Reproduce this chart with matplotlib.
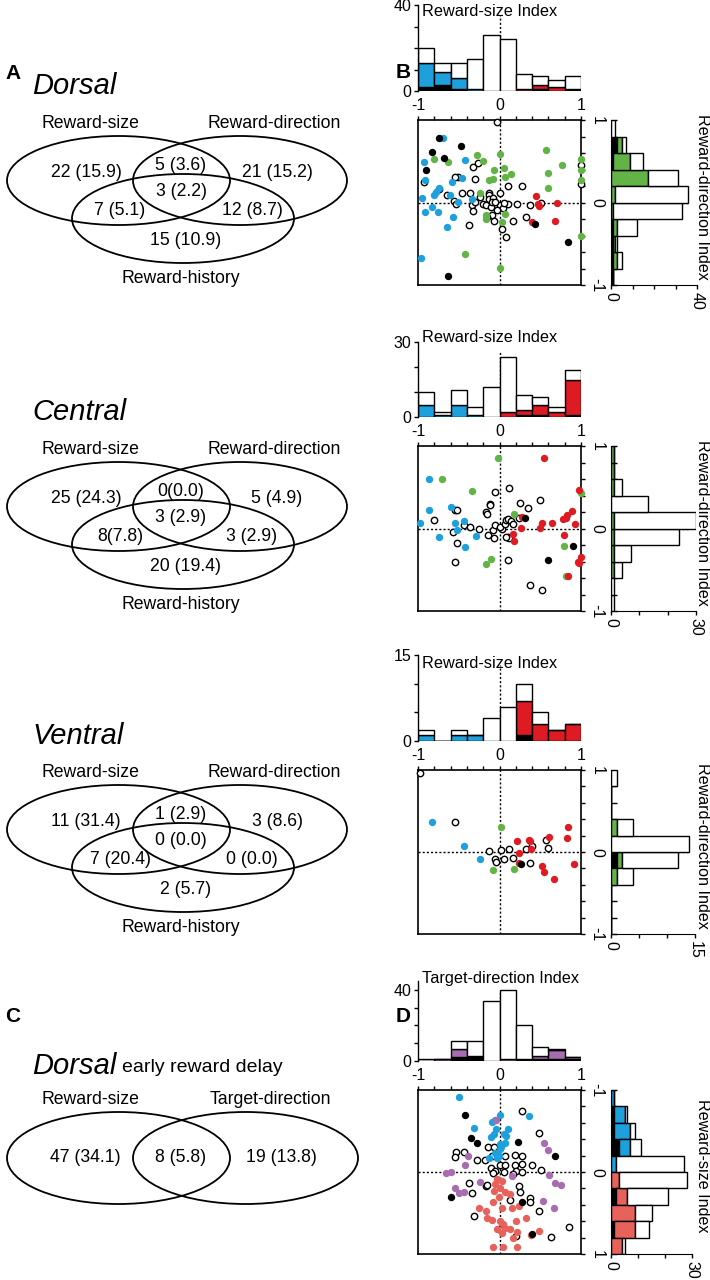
import matplotlib
matplotlib.use("Agg")
import matplotlib.pyplot as plt
import numpy as np
from matplotlib.patches import Ellipse

plt.rcParams['font.family'] = ['Liberation Sans', 'DejaVu Sans']

# ---------------- DATA ----------------
bin_edges = np.linspace(-1, 1, 11)

# Venn region labels
venn_dorsal = ["22 (15.9)", "5 (3.6)", "21 (15.2)", "3 (2.2)", "7 (5.1)", "12 (8.7)", "15 (10.9)"]
venn_central = ["25 (24.3)", "0(0.0)", "5 (4.9)", "3 (2.9)", "8(7.8)", "3 (2.9)", "20 (19.4)"]
venn_ventral = ["11 (31.4)", "1 (2.9)", "3 (8.6)", "0 (0.0)", "7 (20.4)", "0 (0.0)", "2 (5.7)"]
venn_early = ["47 (34.1)", "8 (5.8)", "19 (13.8)"]

# Histograms: counts per bin (-1..1, step 0.2): black / coloured / open
dor_size_black = [2, 3, 1, 0, 0, 0, 0, 1, 0, 1]
dor_size_sig = [11, 6, 5, 1, 0, 0, 1, 2, 2, 0]
dor_size_non = [7, 4, 7, 14, 26, 24, 7, 4, 3, 6]
dor_dir_black = [1, 1, 1, 1, 0, 0, 0, 1, 3, 0]
dor_dir_sig = [0, 2, 1, 2, 1, 2, 17, 8, 2, 0]
dor_dir_non = [0, 2, 1, 9, 32, 34, 14, 6, 2, 2]

cen_size_black = [0, 0, 0, 0, 0, 0, 1, 1, 0, 1]
cen_size_sig = [5, 1, 5, 1, 0, 2, 2, 4, 2, 14]
cen_size_non = [5, 1, 6, 3, 12, 22, 6, 3, 2, 4]
cen_dir_black = [0, 0, 0, 0, 0, 0, 0, 0, 0, 0]
cen_dir_sig = [0, 0, 1, 1, 1, 1, 0, 1, 1, 1]
cen_dir_non = [1, 1, 3, 6, 23, 29, 13, 3, 0, 0]

ven_size_black = [0, 0, 0, 0, 0, 0, 1, 0, 0, 0]
ven_size_sig = [1, 0, 1, 1, 0, 0, 6, 3, 2, 3]
ven_size_non = [1, 0, 1, 0, 4, 6, 3, 2, 0, 0]
ven_dir_black = [0, 0, 0, 0, 1, 0, 0, 0, 0, 0]
ven_dir_sig = [0, 0, 0, 1, 1, 0, 1, 0, 0, 0]
ven_dir_non = [0, 0, 0, 3, 10, 14, 3, 0, 0, 1]

early_tgt_black = [0, 0, 2, 2, 0, 0, 1, 1, 1, 1]
early_tgt_sig = [0, 1, 5, 1, 0, 1, 0, 2, 5, 1]
early_tgt_non = [1, 0, 4, 8, 34, 39, 19, 5, 1, 0]
early_size_black = [0, 1, 1, 3, 0, 0, 2, 0, 1, 0]
early_size_sig = [1, 4, 6, 4, 2, 3, 4, 9, 8, 4]
early_size_non = [0, 1, 2, 4, 25, 25, 15, 6, 5, 1]

# Scatter: Dorsal (x = reward-size index, y = reward-direction index)
dor_open_x = [-0.03, -0.33, -0.26, -0.51, -0.54, -0.30, -0.74, 0.10, 0.27, 1.00, 1.00, -0.93, -0.65, -0.56, -0.46, -0.53, -0.34, -0.33, -0.13, -0.13, -0.13, -0.08, 0.00, -0.20, -0.17, -0.05, 0.01, -0.10, 0.04, -0.03, 0.10, 0.22, 0.38, 0.51, 0.32, 0.17, -0.09, -0.07, -0.15, 0.03, 0.08, -0.38, -0.24, -0.30, -0.36, -0.09, 0.06, -0.05]
dor_open_y = [0.97, 0.43, 0.48, 0.31, 0.31, 0.29, 0.16, 0.20, 0.20, 0.46, 0.22, 0.25, 0.09, 0.02, 0.12, -0.02, -0.03, -0.10, 0.12, 0.09, 0.04, 0.06, 0.12, -0.02, -0.03, -0.03, -0.03, -0.05, -0.07, -0.09, -0.02, -0.02, -0.03, 0.00, -0.18, -0.22, -0.15, -0.23, -0.18, -0.32, -0.42, -0.27, 0.07, 0.01, 0.11, 0.01, 0.00, 0.01]
dor_blue_x = [-0.69, -0.93, -0.42, -0.91, -0.46, -0.58, -0.74, -0.78, -0.80, -0.61, -0.95, -0.51, -0.34, -0.83, -0.91, -0.76, -0.57, -0.64, -0.96]
dor_blue_y = [0.78, 0.49, 0.52, 0.27, 0.30, 0.25, 0.17, 0.13, 0.09, 0.09, 0.06, 0.01, 0.04, -0.06, -0.12, -0.11, -0.18, -0.30, -0.67]
dor_green_x = [-0.80, -0.63, -0.27, -0.20, 0.00, 0.57, 0.77, 1.00, 1.00, 1.00, 0.60, 0.60, 0.05, 0.14, -0.07, 0.07, -0.13, -0.08, -0.24, -0.17, -0.16, 0.07, 0.03, -0.42, 0.00, 1.00]
dor_green_y = [0.53, 0.49, 0.57, 0.50, 0.59, 0.64, 0.46, 0.53, 0.39, 0.27, 0.36, 0.18, 0.42, 0.35, 0.39, 0.31, 0.27, 0.29, 0.12, -0.15, -0.20, -0.14, -0.24, -0.63, -0.79, -0.40]
dor_red_x = [0.45, 0.48, 0.70, 0.40, 0.68, 0.47]
dor_red_y = [0.08, -0.04, 0.00, -0.24, -0.23, -0.02]
dor_black_x = [-0.74, -0.47, -0.83, -0.68, -0.90, -0.63, 0.44, 0.84]
dor_black_y = [0.78, 0.68, 0.61, 0.54, 0.39, -0.89, -0.26, -0.48]

# Scatter: Central
cen_open_x = [0.12, -0.05, -0.12, -0.12, -0.17, -0.15, -0.55, -0.80, -0.44, -0.36, -0.25, -0.14, -0.07, -0.08, -0.05, 0.03, 0.01, 0.07, 0.08, 0.11, 0.14, 0.16, 0.24, 0.25, 0.35, 0.50, 0.10, 0.12, 0.08, -0.52, -0.54, 0.11, 0.38, 0.52, -0.57, -0.52]
cen_open_y = [0.49, 0.44, 0.30, 0.28, 0.20, 0.18, 0.23, 0.10, 0.04, 0.02, -0.01, -0.08, -0.12, -0.02, 0.04, 0.00, 0.02, 0.05, 0.10, 0.12, 0.09, 0.06, 0.13, 0.31, 0.25, 0.35, -0.10, -0.12, -0.10, -0.18, -0.41, -0.38, -0.68, -0.74, -0.04, 0.22]
cen_blue_x = [-0.87, -0.86, -0.59, -0.97, -0.54, -0.43, -0.52, -0.74, -0.29, -0.42]
cen_blue_y = [0.60, 0.22, 0.26, 0.07, 0.07, 0.09, -0.02, -0.10, -0.09, -0.22]
cen_green_x = [-0.70, -0.34, -0.02, 0.18, 1.00, 0.79, -0.10, -0.17, 0.82]
cen_green_y = [0.60, 0.45, 0.86, 0.18, 0.43, -0.21, -0.37, -0.43, -0.58]
cen_red_x = [0.55, 0.97, 0.89, 0.83, 0.81, 0.78, 0.64, 0.52, 0.50, 0.27, 0.26, 0.17, 0.18, 0.93, 0.79, 0.96, 0.98, 0.84, 1.00]
cen_red_y = [0.86, 0.47, 0.21, 0.16, 0.13, 0.11, 0.07, 0.07, 0.01, 0.14, 0.01, -0.07, -0.15, 0.05, -0.08, -0.40, -0.42, -0.57, -0.35]
cen_black_x = [0.31, 0.90, 0.59]
cen_black_y = [0.13, -0.21, -0.38]

# Scatter: Ventral
ven_open_x = [-0.98, -0.55, -0.13, 0.02, 0.12, 0.17, 0.06, -0.06, -0.04, 0.32, 0.40, 0.57, 0.59, 0.37]
ven_open_y = [0.96, 0.36, 0.01, 0.02, 0.04, -0.07, -0.08, -0.08, -0.12, 0.04, 0.07, 0.15, 0.05, -0.13]
ven_blue_x = [-0.83, -0.43, -0.24]
ven_blue_y = [0.37, 0.07, -0.08]
ven_green_x = [0.02, -0.08, 0.18]
ven_green_y = [0.30, -0.22, -0.21]
ven_red_x = [0.84, 0.83, 0.61, 0.36, 0.22, 0.37, 0.39, 0.24, 0.24, 0.52, 0.54, 0.67, 0.92]
ven_red_y = [0.31, 0.17, 0.18, 0.15, 0.13, 0.13, 0.04, -0.01, -0.14, -0.17, -0.24, -0.33, -0.15]
ven_black_x = [0.26]
ven_black_y = [-0.15]

# Scatter: Dorsal early reward delay (x = target-direction index, y = reward-size index)
early_open_x = [-0.53, -0.54, -0.44, -0.28, -0.18, -0.09, -0.14, -0.07, 0.07, 0.19, 0.27, 0.28, 0.40, 0.51, 0.19, 0.20, -0.10, -0.05, 0.05, 0.17, 0.28, -0.37, -0.34, -0.17, -0.15, 0.24, 0.25, 0.13, 0.37, 0.37, 0.49, 0.28, 0.48, -0.31, 0.00, -0.08, 0.85, 0.63, 0.20, -0.01, 0.07]
early_open_y = [-0.24, -0.18, -0.24, -0.15, -0.15, -0.20, -0.30, -0.30, -0.19, -0.21, -0.20, -0.10, -0.08, -0.03, -0.09, -0.01, -0.05, -0.01, 0.00, 0.03, 0.00, 0.13, 0.26, 0.17, 0.16, 0.17, 0.24, 0.34, 0.32, 0.37, 0.47, -0.75, -0.47, 0.54, -0.08, 0.01, 0.67, 0.79, 0.78, 0.70, -0.09]
early_blue_x = [-0.50, 0.00, -0.05, -0.31, -0.09, -0.04, -0.07, 0.06, 0.11, 0.08, 0.00, 0.07, 0.02, -0.10, 0.01, -0.05, -0.01, -0.03, -0.13, 0.36]
early_blue_y = [-0.92, -0.70, -0.63, -0.54, -0.61, -0.52, -0.46, -0.46, -0.52, -0.44, -0.34, -0.35, -0.31, -0.43, -0.28, -0.23, -0.20, -0.17, -0.17, -0.68]
early_purple_x = [-0.04, 0.55, 0.59, -0.39, -0.42, -0.66, -0.59, 0.61, -0.24, 0.15, -0.54, -0.43, -0.50, 0.76, 0.68, 0.53, 0.67]
early_purple_y = [-0.64, -0.35, -0.27, -0.20, -0.09, 0.01, 0.00, 0.04, 0.12, 0.05, 0.20, 0.24, 0.26, 0.16, 0.14, 0.35, 0.44]
early_red_x = [-0.03, 0.03, -0.05, 0.01, -0.07, 0.07, -0.01, 0.13, -0.25, -0.17, -0.08, 0.03, 0.15, 0.24, -0.15, -0.09, 0.01, 0.04, 0.07, 0.13, 0.22, 0.17, 0.03, -0.03, -0.08, 0.04, 0.21, 0.39, 0.48, 0.20, 0.32]
early_red_y = [0.09, 0.11, 0.15, 0.19, 0.23, 0.24, 0.30, 0.27, 0.44, 0.47, 0.37, 0.44, 0.44, 0.41, 0.56, 0.58, 0.60, 0.64, 0.68, 0.70, 0.73, 0.80, 0.74, 0.70, 0.92, 0.92, 0.92, 0.77, 0.72, 0.60, 0.56]
early_black_x = [-0.42, -0.35, -0.27, 0.23, 0.68, -0.60, 0.28, 0.40]
early_black_y = [-0.70, -0.41, -0.35, -0.37, -0.20, 0.31, 0.36, 0.76]

# ---------------- STYLE ----------------
BLUE = '#1EA0DD'
GREEN = '#62B446'
RED = '#DE1A22'
PURPLE = '#A86DB0'
SALMON = '#E8625C'

W, H = 710, 1280
fig = plt.figure(figsize=(W / 100, H / 100), dpi=100)

def add_ax(l, t, r, b):
    return fig.add_axes([l / W, 1 - b / H, (r - l) / W, (b - t) / H])

# background axes in pixel coordinates for Venn diagrams and labels
bg = fig.add_axes([0, 0, 1, 1])
bg.set_xlim(0, W)
bg.set_ylim(H, 0)
bg.axis('off')

FS = 12.7

def venn3(cy, title, labels, panel=None):
    for (cx, ey, w) in [(118.5, cy, 223), (240, cy, 214), (183, cy + 38, 222)]:
        bg.add_patch(Ellipse((cx, ey), w, 89, fill=False, lw=1.3, ec='black'))
    bg.text(32, cy - 94, title, fontsize=21, style='italic', ha='left', va='center')
    if panel:
        bg.text(5, cy - 107, panel, fontsize=15, weight='bold', ha='left', va='center')
    bg.text(90, cy - 57, "Reward-size", fontsize=FS, ha='center', va='center')
    bg.text(274, cy - 57, "Reward-direction", fontsize=FS, ha='center', va='center')
    bg.text(181, cy + 98, "Reward-history", fontsize=FS, ha='center', va='center')
    pos = [(86, -8), (181, -15), (277, -8), (181, 11), (120, 30), (252, 30), (186, 60)]
    for (x, dy), t in zip(pos, labels):
        bg.text(x, cy + dy, t, fontsize=FS, ha='center', va='center')

venn3(180.5, "Dorsal", venn_dorsal, "A")
venn3(506.5, "Central", venn_central)
venn3(829.5, "Ventral", venn_ventral)

# Venn C
cy = 1158
bg.add_patch(Ellipse((118.5, cy), 223, 92, fill=False, lw=1.3, ec='black'))
bg.add_patch(Ellipse((245.5, cy), 225, 92, fill=False, lw=1.3, ec='black'))
bg.text(5, 1017, "C", fontsize=15, weight='bold', ha='left', va='center')
bg.text(32, 1066, "Dorsal", fontsize=21, style='italic', ha='left', va='center')
bg.text(122, 1068, "early reward delay", fontsize=14, ha='left', va='center')
bg.text(90, 1099, "Reward-size", fontsize=FS, ha='center', va='center')
bg.text(270, 1099, "Target-direction", fontsize=FS, ha='center', va='center')
for x, s in zip([85, 181, 281], venn_early):
    bg.text(x, cy, s, fontsize=FS, ha='center', va='center')

bg.text(396, 73, "B", fontsize=15, weight='bold', ha='left', va='center')
bg.text(396, 1017, "D", fontsize=15, weight='bold', ha='left', va='center')

centers = (bin_edges[:-1] + bin_edges[1:]) / 2
TFS = 11.5

def top_hist(ax, black, sig, non, colors, ymax, ticks, ticklabels):
    b = np.array(black, float); s = np.array(sig, float); n = np.array(non, float)
    ax.axvline(0, ymin=0, ymax=0.88, ls=(0, (1.5, 1.5)), color='black', lw=1, zorder=0)
    ax.bar(centers, b, width=0.2, color='black', edgecolor='black', lw=1, zorder=2)
    ax.bar(centers, s, bottom=b, width=0.2, color=colors, edgecolor='black', lw=1, zorder=2)
    ax.bar(centers, n, bottom=b + s, width=0.2, color='white', edgecolor='black', lw=1, zorder=2)
    ax.set_xlim(-1, 1)
    ax.set_ylim(0, ymax)
    for sp in ['top', 'right', 'bottom']:
        ax.spines[sp].set_visible(False)
    ax.spines['left'].set_linewidth(1)
    ax.set_xticks([])
    ax.set_yticks(ticks)
    ax.set_yticklabels(ticklabels, fontsize=TFS)
    ax.tick_params(axis='y', direction='out', length=3, width=1, pad=2)
    ax.patch.set_alpha(0)

def scatter(ax, groups, invert=False):
    ax.axvline(0, ls=(0, (1.5, 1.5)), color='black', lw=1, zorder=0)
    ax.axhline(0, ls=(0, (1.5, 1.5)), color='black', lw=1, zorder=0)
    for xs, ys, c in groups:
        if c == 'open':
            ax.scatter(xs, ys, s=21, facecolor='white', edgecolor='black', lw=1.0, zorder=3, clip_on=False)
        else:
            ax.scatter(xs, ys, s=28, color=c, lw=0, zorder=4, clip_on=False)
    ax.set_xlim(-1, 1)
    ax.set_ylim((1, -1) if invert else (-1, 1))
    ax.xaxis.tick_top()
    ax.yaxis.tick_right()
    ax.set_xticks([-1, 0, 1])
    ax.set_xticklabels(['-1', '0', '1'], fontsize=TFS)
    ax.set_yticks([-1, 0, 1])
    ax.set_yticklabels(['-1', '0', '1'], fontsize=TFS, rotation=-90, va='center')
    ax.set_xticks(np.arange(-1, 1.01, 0.2), minor=True)
    ax.set_yticks(np.arange(-1, 1.01, 0.2), minor=True)
    ax.tick_params(which='both', direction='out', length=3, width=1, pad=2)
    ax.tick_params(axis='y', which='both', pad=3)
    for sp in ax.spines.values():
        sp.set_linewidth(1.2)

def right_hist(ax, black, sig, non, colors, xmax, ticks, ticklabels, invert=False):
    b = np.array(black, float); s = np.array(sig, float); n = np.array(non, float)
    ax.axhline(0, xmin=0, xmax=0.92, ls=(0, (1.5, 1.5)), color='black', lw=1, zorder=0)
    ax.barh(centers, b, height=0.2, color='black', edgecolor='black', lw=1, zorder=2)
    ax.barh(centers, s, left=b, height=0.2, color=colors, edgecolor='black', lw=1, zorder=2)
    ax.barh(centers, n, left=b + s, height=0.2, color='white', edgecolor='black', lw=1, zorder=2)
    ax.set_ylim((1, -1) if invert else (-1, 1))
    ax.set_xlim(0, xmax)
    for sp in ['top', 'right']:
        ax.spines[sp].set_visible(False)
    ax.set_yticks(np.arange(-1, 1.01, 0.2))
    ax.set_yticklabels([])
    ax.tick_params(axis='y', direction='in', length=4, width=1)
    ax.set_xticks(ticks)
    ax.set_xticklabels(ticklabels, fontsize=TFS, rotation=-90, ha='center', va='top')
    ax.tick_params(axis='x', direction='out', length=3, width=1, pad=2)
    ax.patch.set_alpha(0)

size_colors = [BLUE if c < 0 else RED for c in centers]
early_size_colors = [BLUE if c < 0 else SALMON for c in centers]

panels = [
    dict(ht=5, hb=91, ymax=40, hticks=[0, 10, 20, 30, 40], hlab=['0', '', '', '', '40'],
         title="Reward-size Index", title_y=11,
         st=120, sb=285, rr=697, rxmax=40, rticks=[0, 10, 20, 30, 40], rlab=['0', '', '', '', '40'],
         hist=(dor_size_black, dor_size_sig, dor_size_non, size_colors),
         rhist=(dor_dir_black, dor_dir_sig, dor_dir_non, GREEN),
         groups=[(dor_open_x, dor_open_y, 'open'), (dor_blue_x, dor_blue_y, BLUE),
                 (dor_green_x, dor_green_y, GREEN), (dor_red_x, dor_red_y, RED),
                 (dor_black_x, dor_black_y, 'black')],
         ylabel="Reward-direction Index", invert=False),
    dict(ht=342, hb=417, ymax=30, hticks=[0, 10, 20, 30], hlab=['0', '', '', '30'],
         title="Reward-size Index", title_y=337,
         st=446, sb=611, rr=696, rxmax=30, rticks=[0, 10, 20, 30], rlab=['0', '', '', '30'],
         hist=(cen_size_black, cen_size_sig, cen_size_non, size_colors),
         rhist=(cen_dir_black, cen_dir_sig, cen_dir_non, GREEN),
         groups=[(cen_open_x, cen_open_y, 'open'), (cen_blue_x, cen_blue_y, BLUE),
                 (cen_green_x, cen_green_y, GREEN), (cen_red_x, cen_red_y, RED),
                 (cen_black_x, cen_black_y, 'black')],
         ylabel="Reward-direction Index", invert=False),
    dict(ht=655, hb=741, ymax=15, hticks=[0, 5, 10, 15], hlab=['0', '', '', '15'],
         title="Reward-size Index", title_y=663,
         st=770, sb=934, rr=695, rxmax=15, rticks=[0, 5, 10, 15], rlab=['0', '', '', '15'],
         hist=(ven_size_black, ven_size_sig, ven_size_non, size_colors),
         rhist=(ven_dir_black, ven_dir_sig, ven_dir_non, GREEN),
         groups=[(ven_open_x, ven_open_y, 'open'), (ven_blue_x, ven_blue_y, BLUE),
                 (ven_green_x, ven_green_y, GREEN), (ven_red_x, ven_red_y, RED),
                 (ven_black_x, ven_black_y, 'black')],
         ylabel="Reward-direction Index", invert=False),
    dict(ht=981, hb=1061, ymax=45, hticks=[0, 10, 20, 30, 40], hlab=['0', '', '', '', '40'],
         title="Target-direction Index", title_y=979,
         st=1090, sb=1254, rr=692, rxmax=30, rticks=[0, 10, 20, 30], rlab=['0', '', '', '30'],
         hist=(early_tgt_black, early_tgt_sig, early_tgt_non, PURPLE),
         rhist=(early_size_black, early_size_sig, early_size_non, early_size_colors),
         groups=[(early_open_x, early_open_y, 'open'), (early_blue_x, early_blue_y, BLUE),
                 (early_purple_x, early_purple_y, PURPLE), (early_red_x, early_red_y, SALMON),
                 (early_black_x, early_black_y, 'black')],
         ylabel="Reward-size Index", invert=True),
]

for p in panels:
    axh = add_ax(418, p['ht'], 581, p['hb'])
    b, s, n, c = p['hist']
    top_hist(axh, b, s, n, c, p['ymax'], p['hticks'], p['hlab'])
    bg.text(422, p['title_y'], p['title'], fontsize=11.7, ha='left', va='center')

    axs = add_ax(418, p['st'], 581, p['sb'])
    scatter(axs, p['groups'], invert=p['invert'])

    axr = add_ax(611, p['st'], p['rr'], p['sb'])
    b, s, n, c = p['rhist']
    right_hist(axr, b, s, n, c, p['rxmax'], p['rticks'], p['rlab'], invert=p['invert'])
    bg.text(703, (p['st'] + p['sb']) / 2 - 6, p['ylabel'], fontsize=11.6, rotation=-90,
            ha='center', va='center')

fig.savefig("out.png", dpi=100)
